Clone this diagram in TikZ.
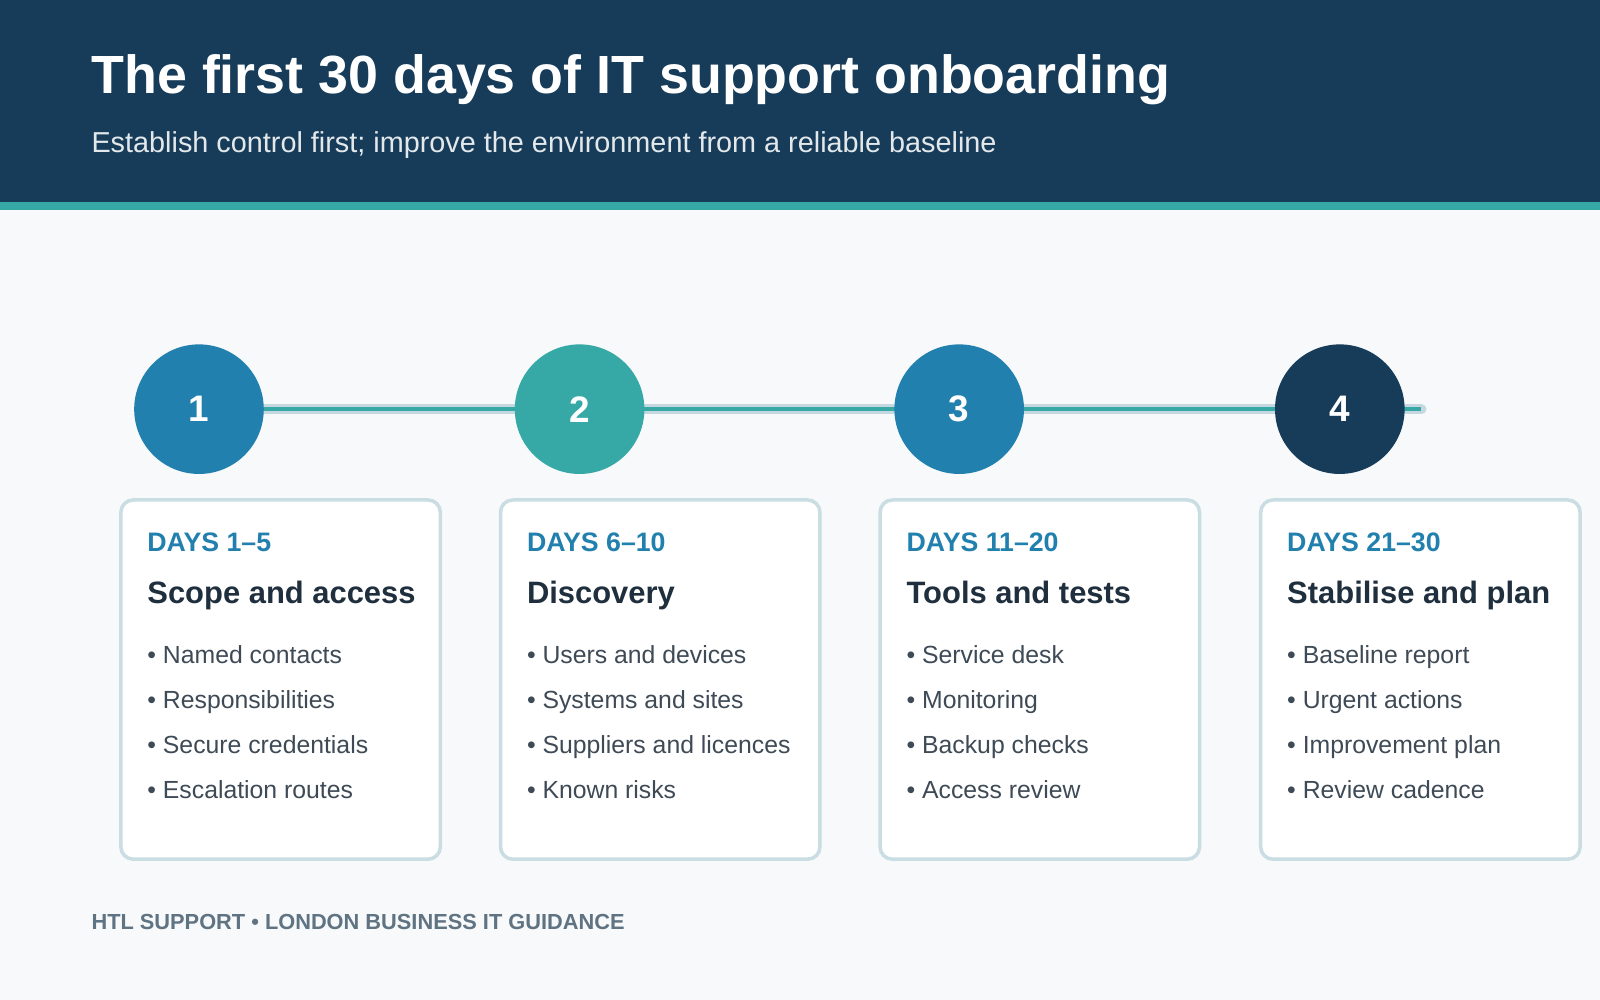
\documentclass[tikz,border=0pt]{standalone}
\usepackage{fontspec}
\setmainfont{Liberation Sans}
\usetikzlibrary{positioning,backgrounds}
\definecolor{navy}{HTML}{173C5A}
\definecolor{teal}{HTML}{36A9A6}
\definecolor{stepblue}{HTML}{2280AE}
\definecolor{paper}{HTML}{F7F9FA}
\definecolor{cardline}{HTML}{C9DDE3}
\definecolor{track}{HTML}{C5D8E0}
\definecolor{ink}{HTML}{1F2F3D}
\definecolor{body}{HTML}{3E4A55}
\definecolor{foot}{HTML}{5F7382}
\newlength{\px}\setlength{\px}{0.10204mm}
\tikzset{
  stage/.style={circle,minimum size=127\px,inner sep=0pt,text=white,font=\fontsize{10.5}{13}\selectfont\bfseries},
  card/.style={draw=cardline,line width=1pt,fill=white,rounded corners=12\px,minimum width=313\px,minimum height=352\px},
  txt/.style={anchor=base west,inner sep=0pt},
  days/.style={txt,text=stepblue,font=\fontsize{7.6}{10}\selectfont\bfseries},
  phase/.style={txt,text=ink,font=\fontsize{8.8}{11}\selectfont\bfseries},
  item/.style={txt,text=body,font=\fontsize{7.05}{9}\selectfont}
}
\begin{document}
\begin{tikzpicture}[x=\px,y=-\px]
	%steps
	\node[stage,fill=stepblue] (c1) at (195,401) {1};
	\node[stage,fill=teal] (c2) at (568,401) {2};
	\node[stage,fill=stepblue] (c3) at (940,401) {3};
	\node[stage,fill=navy] (c4) at (1313,401) {4};
	\coordinate (lineend) at (1393,401);
	\begin{pgfonlayer}{background}
	%background and header
	\fill[paper] (0,0) rectangle (1568,980);
	\fill[navy] (0,0) rectangle (1568,198);
	\fill[teal] (0,198) rectangle (1568,206);
	\draw[track,line width=10\px,line cap=round] (c1.center) -- (lineend);
	\draw[teal,line width=4\px] (c1.center) -- (lineend);
	\end{pgfonlayer}
	\node[txt,text=white,font=\fontsize{15.3}{18}\selectfont\bfseries] (title) at (89,92) {The first 30 days of IT support onboarding};
	\node[txt,text=white!88!navy,font=\fontsize{8.2}{10}\selectfont] (sub) at (89,149) {Establish control first; improve the environment from a reliable baseline};

	%cards
	\foreach \i/\x/\d/\p/\a/\b/\c/\e in {
	  1/275/DAYS 1--5/Scope and access/Named contacts/Responsibilities/Secure credentials/Escalation routes,
	  2/647/DAYS 6--10/Discovery/Users and devices/Systems and sites/Suppliers and licences/Known risks,
	  3/1019/DAYS 11--20/Tools and tests/Service desk/Monitoring/Backup checks/Access review,
	  4/1392/DAYS 21--30/Stabilise and plan/Baseline report/Urgent actions/Improvement plan/Review cadence}{
	  \node[card] (k\i) at (\x,666) {};
	  \node[days] (d\i) at ([xshift=27\px,yshift=-52\px]k\i.north west) {\d};
	  \node[phase] (p\i) at ([xshift=27\px,yshift=-103\px]k\i.north west) {\p};
	  \node[item] (a\i) at ([xshift=27\px,yshift=-162\px]k\i.north west) {\textbullet\ \a};
	  \node[item] (b\i) at ([xshift=27\px,yshift=-206\px]k\i.north west) {\textbullet\ \b};
	  \node[item] (g\i) at ([xshift=27\px,yshift=-250\px]k\i.north west) {\textbullet\ \c};
	  \node[item] (e\i) at ([xshift=27\px,yshift=-294\px]k\i.north west) {\textbullet\ \e};
	}

	%footer
	\node[txt,text=foot,font=\fontsize{6.2}{8}\selectfont\bfseries] (footer) at (89,911) {HTL SUPPORT \textbullet\ LONDON BUSINESS IT GUIDANCE};
\end{tikzpicture}
\end{document}
